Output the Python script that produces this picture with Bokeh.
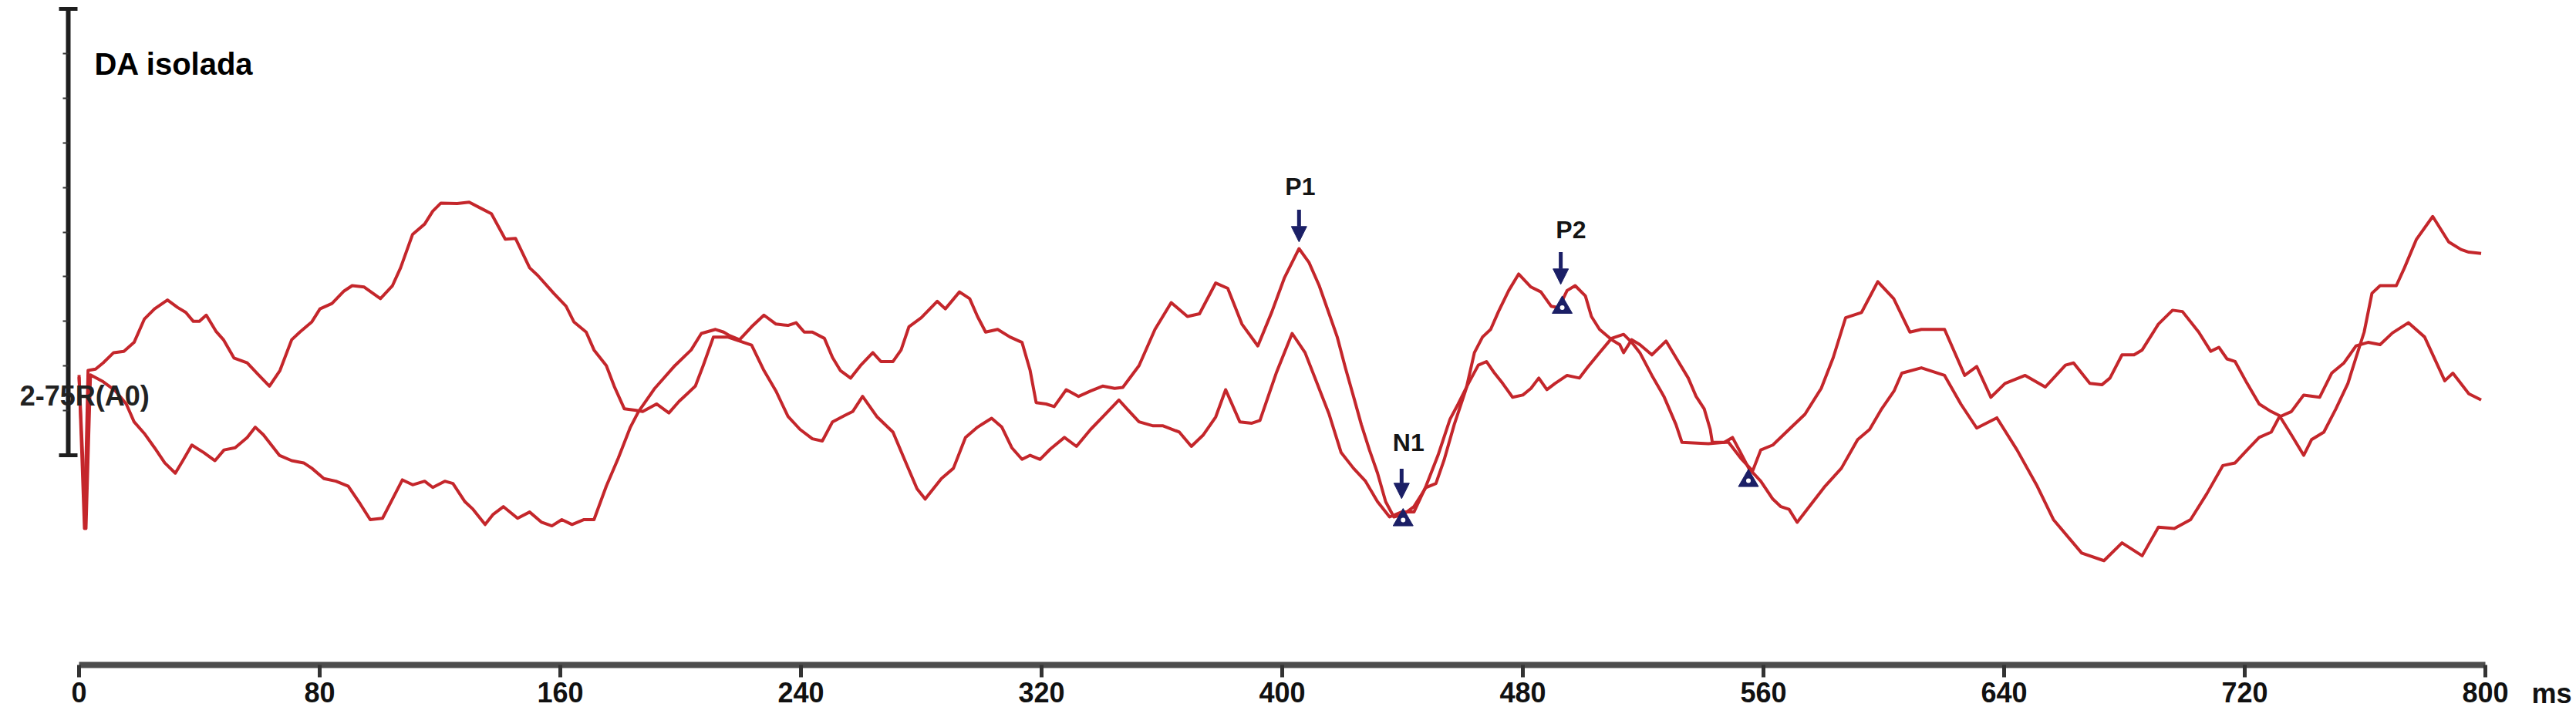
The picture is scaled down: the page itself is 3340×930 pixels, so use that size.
from bokeh.plotting import figure
from bokeh.models import ColumnDataSource, LinearAxis, FixedTicker, Range1d, Arrow, NormalHead, Label
from bokeh.core.properties import value
from bokeh.embed import file_html
from bokeh.resources import INLINE

# latency (ms) and amplitude of the two traces
time_a = [0, 1.8, 3.0, 5.5, 8.0, 11.5, 14.9, 18.3, 21.7, 25.1, 29.4, 32.8, 35.5, 38.0, 40.0,
          42.3, 45.5, 48.0, 51.5, 55.9, 59.7, 63.3, 66.8, 70.7, 73.4, 77.4, 80.1, 84.1, 88.1,
          90.8, 94.8, 100.2, 104.2, 106.9, 110.9, 114.9, 117.6, 120.3, 125.7, 129.7, 133.7,
          137.1, 141.7, 145.1, 149.8, 152.5, 157.8, 161.9, 164.5, 168.6, 171.2, 175.3, 177.9,
          181.3, 184.7, 187.4, 192.0, 196.1, 199.5, 202.2, 204.9, 207.5, 210.9, 215.6, 219.6,
          223.6, 227.7, 231.7, 235.7, 239.7, 243.8, 247.1, 250.5, 254.5, 257.2, 260.5, 265.2,
          270.6, 274.6, 278.6, 281.3, 286.7, 290.7, 294.7, 298.7, 303.4, 306.8, 310.1, 313.5,
          316.2, 319.5, 322.9, 327.6, 331.6, 336.3, 340.3, 345.7, 348.4, 352.4, 357.1, 360.4,
          365.8, 369.8, 373.8, 377.9, 381.2, 385.9, 389.9, 392.6, 398.0, 403.3, 407.6, 411.6,
          415.6, 419.6, 423.7, 427.7, 431.7, 435.7, 439.7, 443.8, 447.8, 451.8, 455.8, 458.5,
          461.9, 465.2, 467.9, 470.6, 473.3, 476.6, 480.0, 482.7, 485.3, 488.0, 490.7, 494.7,
          498.8, 501.4, 505.5, 509.5, 513.5, 516.2, 518.9, 522.9, 526.9, 530.9, 532.9, 541.7,
          547.0, 549.7, 552.4, 555.1, 559.1, 563.1, 565.8, 568.5, 571.2, 575.2, 580.5, 585.9,
          591.3, 595.3, 599.3, 603.4, 606.0, 612.5, 620.2, 625.6, 630.9, 637.6, 644.3, 651.0,
          656.4, 665.8, 673.2, 679.2, 685.9, 691.3, 696.6, 702.0, 707.4, 712.7, 716.8, 720.8,
          724.8, 728.8, 731.5, 735.5, 739.6, 744.9, 748.9, 753.0, 757.0, 761.0, 765.0, 769.1,
          774.4, 779.8, 786.5, 789.2, 794.5, 798.6]
amp_a = [1.80, -1.64, 1.90, 1.93, 2.07, 2.30, 2.33, 2.53, 3.05, 3.28, 3.48, 3.31, 3.20, 3.00, 3.00,
         3.14, 2.78, 2.59, 2.18, 2.07, 1.80, 1.55, 1.90, 2.59, 2.76, 2.99, 3.28, 3.40, 3.68,
         3.80, 3.77, 3.51, 3.80, 4.20, 4.95, 5.18, 5.47, 5.65, 5.64, 5.67, 5.53,
         5.41, 4.84, 4.86, 4.20, 4.03, 3.63, 3.34, 2.99, 2.76, 2.36, 2.01, 1.55,
         1.04, 1.01, 0.98, 1.15, 0.95, 1.21, 1.38, 1.55, 2.01, 2.65, 2.65, 2.56,
         2.47, 1.90, 1.44, 0.87, 0.58, 0.37, 0.32, 0.75, 0.89, 0.98, 1.32, 0.87,
         0.52, -0.12, -0.75, -0.98, -0.52, -0.29, 0.40, 0.63, 0.83, 0.63, 0.17, -0.09,
         0.00, -0.09, 0.14, 0.40, 0.20, 0.58, 0.86, 1.24, 1.04, 0.75, 0.66, 0.66,
         0.52, 0.20, 0.46, 0.86, 1.47, 0.75, 0.72, 0.78, 1.84, 2.73, 2.30, 1.61,
         0.92, 0.06, -0.29, -0.58, -1.04, -1.38, -1.27, -1.27, -0.69, 0.00, 0.81, 1.15,
         1.61, 2.02, 2.10, 1.84, 1.61, 1.30, 1.35, 1.50, 1.73, 1.47, 1.61, 1.79,
         1.73, 1.96, 2.30, 2.62, 2.71, 2.53, 2.30, 1.79, 1.32, 0.69, 0.29, 0.26,
         0.29, 0.40, 0.06, -0.29, -0.58, -0.98, -1.15, -1.21, -1.50, -1.15, -0.69, -0.29,
         0.35, 0.58, 1.04, 1.44, 1.84, 1.96, 1.79, 1.15, 0.61, 0.84, 0.12, -0.69,
         -1.44, -2.19, -2.36, -1.96, -2.25, -1.61, -1.64, -1.44, -0.86, -0.23, -0.17, 0.12,
         0.40, 0.52, 0.86, 0.98, 1.35, 1.30, 1.84, 2.07, 2.45, 2.53, 2.48, 2.74,
         2.97, 2.65, 1.67, 1.84, 1.38, 1.24]

time_b = [0, 2.3, 3.8, 8.0, 12.0, 15.7, 18.3, 21.7, 25.1, 28.5, 32.0, 34.5, 37.5, 41.5, 45.2,
          48.2, 51.9, 55.9, 58.6, 61.3, 66.6, 70.7, 74.7, 77.4, 81.4, 85.4, 89.5, 93.5, 96.8,
          100.9, 104.2, 107.5, 110.9, 114.9, 117.6, 121.6, 124.3, 128.3, 131.0, 135.0, 137.7,
          141.1, 145.8, 149.8, 153.8, 157.2, 160.5, 163.9, 167.9, 171.2, 175.3, 179.3, 183.3,
          186.0, 191.4, 198.1, 203.5, 206.9, 211.6, 214.3, 216.3, 219.6, 223.6, 227.7, 231.7,
          235.7, 238.4, 241.1, 243.8, 247.8, 250.5, 253.1, 256.5, 259.8, 263.9, 266.6, 270.6,
          273.3, 275.9, 280.0, 285.3, 288.0, 292.7, 296.1, 298.7, 301.4, 305.4, 309.5, 313.5,
          316.2, 318.2, 321.5, 324.2, 328.2, 332.3, 336.3, 340.3, 344.3, 347.0, 352.4, 357.7,
          363.1, 368.5, 372.5, 377.9, 381.9, 386.6, 391.9, 396.6, 400.7, 405.6, 408.9, 412.3,
          415.6, 418.3, 421.0, 423.7, 426.3, 429.0, 431.7, 434.4, 437.1, 440.4, 443.8, 447.8,
          451.1, 453.8, 457.2, 461.2, 463.9, 466.6, 469.3, 471.9, 475.3, 478.6, 482.7, 486.0,
          489.4, 492.0, 494.7, 497.4, 500.8, 502.8, 505.5, 509.5, 512.2, 513.5, 516.2, 518.9,
          522.9, 527.6, 530.9, 535.0, 537.6, 540.3, 542.3, 543.0, 548.4, 552.4, 556.4, 559.1,
          563.1, 568.5, 573.8, 579.2, 583.2, 587.3, 592.6, 598.0, 603.3, 608.7, 612.5, 620.2,
          626.9, 630.9, 635.6, 640.3, 647.0, 653.7, 660.4, 663.1, 668.5, 672.5, 675.2, 679.2,
          683.2, 685.9, 691.3, 696.0, 699.3, 704.7, 708.7, 711.4, 714.1, 716.8, 720.8, 724.8,
          728.8, 731.5, 735.5, 739.6, 742.2, 746.3, 750.3, 754.3, 757.0, 759.7, 762.3, 765.0,
          770.4, 773.1, 777.1, 782.5, 787.8, 791.9, 794.5, 798.6]
amp_b = [1.75, -1.64, 1.80, 1.65, 1.45, 1.15, 0.75, 0.49, 0.17, -0.17, -0.40, -0.12, 0.23, 0.06, -0.12,
         0.12, 0.17, 0.40, 0.63, 0.46, 0.00, -0.12, -0.17, -0.29, -0.52, -0.58, -0.69, -1.09, -1.44,
         -1.41, -0.98, -0.55, -0.66, -0.58, -0.72, -0.58, -0.63, -1.04, -1.21, -1.55, -1.32,
         -1.15, -1.41, -1.27, -1.50, -1.58, -1.44, -1.55, -1.44, -1.44, -0.69, -0.06, 0.63,
         0.98, 1.50, 2.01, 2.36, 2.73, 2.82, 2.76, 2.68, 2.59, 2.88, 3.14, 2.94,
         2.91, 2.97, 2.76, 2.76, 2.62, 2.19, 1.90, 1.73, 2.01, 2.30, 2.10, 2.10,
         2.36, 2.88, 3.08, 3.45, 3.28, 3.66, 3.51, 3.11, 2.76, 2.82, 2.65, 2.53,
         1.90, 1.18, 1.15, 1.09, 1.47, 1.32, 1.44, 1.55, 1.50, 1.52, 2.01, 2.82,
         3.42, 3.11, 3.17, 3.86, 3.74, 2.94, 2.45, 3.22, 3.97, 4.63, 4.32, 3.80,
         3.17, 2.65, 1.96, 1.32, 0.69, 0.12, -0.40, -1.04, -1.38, -1.32, -1.15, -0.72,
         -0.63, -0.11, 0.69, 1.50, 2.30, 2.65, 2.82, 3.22, 3.69, 4.06, 3.77, 3.66,
         3.34, 3.31, 3.69, 3.80, 3.57, 3.11, 2.82, 2.59, 2.48, 2.30, 2.59, 2.48,
         2.25, 2.56, 2.19, 1.73, 1.32, 1.04, 0.58, 0.29, 0.29, -0.06, -0.35, 0.12,
         0.23, 0.58, 0.92, 1.50, 2.19, 3.08, 3.20, 3.89, 3.51, 2.76, 2.82, 2.82,
         1.79, 1.99, 1.30, 1.61, 1.79, 1.53, 2.02, 2.07, 1.61, 1.58, 1.73, 2.25,
         2.25, 2.36, 2.94, 3.25, 3.22, 2.76, 2.33, 2.42, 2.16, 2.10, 1.61, 1.15,
         0.98, 0.89, 0.46, 0.00, 0.35, 0.52, 1.04, 1.61, 2.19, 2.76, 3.63, 3.80,
         3.80, 4.20, 4.84, 5.35, 4.78, 4.61, 4.55, 4.52]

x_ticks = [0, 80, 160, 240, 320, 400, 480, 560, 640, 720, 800]
scale_major = [0, 10]
scale_minor = [1, 2, 3, 4, 5, 6, 7, 8, 9]

# wave markers
peak_names = ["P1", "N1", "P2"]
peak_label_t = [406.0, 442.0, 496.0]
peak_label_v = [6.02, 0.28, 5.06]
arrow_t = [405.6, 439.7, 492.6]
arrow_top = [5.50, -0.30, 4.55]
arrow_tip = [4.78, -0.97, 3.83]
mark_t = [440.2, 493.1, 555.0]
mark_v = [-1.45, 3.31, -0.57]

FONT = "Liberation Sans"
RED = "#c4262b"
NAVY = "#1b1f66"

# frame fills the whole canvas; the axes are pinned inside it
p = figure(width=3340, height=930, x_range=Range1d(-26.15, 830.26), y_range=Range1d(-5.87, 10.19),
           x_axis_type=None, y_axis_type=None, toolbar_location=None, output_backend="svg",
           min_border=0)
p.outline_line_color = None

xaxis = LinearAxis(bounds=(0, 800), fixed_location=-4.70,
                   ticker=FixedTicker(ticks=x_ticks, minor_ticks=[]))
xaxis.axis_line_width = 8
xaxis.axis_line_color = "#4d4d4d"
xaxis.major_tick_line_width = 5
xaxis.major_tick_line_color = "#333333"
xaxis.major_tick_in = 0
xaxis.major_tick_out = 16
xaxis.minor_tick_line_color = None
xaxis.major_label_standoff = 6
xaxis.major_label_text_font = FONT
xaxis.major_label_text_font_style = "bold"
xaxis.major_label_text_font_size = "36px"
xaxis.major_label_text_color = "#111111"
p.add_layout(xaxis, "below")

yaxis = LinearAxis(bounds=(0, 10), fixed_location=-3.59,
                   ticker=FixedTicker(ticks=scale_major, minor_ticks=scale_minor))
yaxis.axis_line_width = 6
yaxis.axis_line_color = "#1e1e1e"
yaxis.major_tick_in = 12
yaxis.major_tick_out = 12
yaxis.major_tick_line_width = 5
yaxis.major_tick_line_color = "#1e1e1e"
yaxis.minor_tick_in = 0
yaxis.minor_tick_out = 7
yaxis.minor_tick_line_width = 2
yaxis.minor_tick_line_color = "#333333"
yaxis.major_label_overrides = {0: "", 10: ""}
p.add_layout(yaxis, "left")

src_a = ColumnDataSource(dict(t=time_a, v=amp_a))
src_b = ColumnDataSource(dict(t=time_b, v=amp_b))
p.line("t", "v", source=src_a, line_color=RED, line_width=4, line_join="round")
p.line("t", "v", source=src_b, line_color=RED, line_width=4, line_join="round")

arrows = ColumnDataSource(dict(x0=arrow_t, y0=arrow_top, x1=arrow_t, y1=arrow_tip))
p.add_layout(Arrow(end=NormalHead(size=20, fill_color=NAVY, line_color=NAVY),
                   source=arrows, x_start="x0", y_start="y0", x_end="x1", y_end="y1",
                   line_color=NAVY, line_width=5))

p.scatter(mark_t, mark_v, marker="triangle", size=26, fill_color=NAVY, line_color=NAVY)
p.scatter(mark_t, mark_v, marker="circle", size=6, fill_color="white", line_color=None)

p.text(x=peak_label_t, y=peak_label_v, text=peak_names, text_font=value(FONT),
       text_font_style="bold", text_font_size="32px", text_align="center",
       text_baseline="middle", text_color="#151515")

p.add_layout(Label(x=5.1, y=8.77, text="DA isolada", text_font=FONT, text_font_style="bold",
                   text_font_size="40px", text_baseline="middle", text_color="#000000"))
p.add_layout(Label(x=-19.7, y=1.33, text="2-75R(A0)", text_font=FONT, text_font_style="bold",
                   text_font_size="36px", text_baseline="middle", text_color="#222222"))
p.add_layout(Label(x=815.4, y=-5.34, text="ms", text_font=FONT, text_font_style="bold",
                   text_font_size="36px", text_baseline="middle", text_color="#111111"))

open("out.html", "w").write(file_html(p, INLINE))
